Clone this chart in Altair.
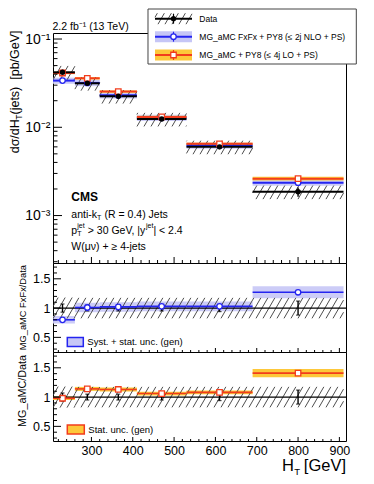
import math
import altair as alt
import pandas as pd

# ---------------- values ----------------
ht_lo = [200, 260, 320, 410, 530, 690]
ht_hi = [260, 320, 410, 530, 690, 910]
ht_mid = [230, 290, 365, 470, 610, 800]
data_xsec = [0.0420, 0.0315, 0.0225, 0.0124, 0.0060, 0.00186]
data_stat = [0.07, 0.05, 0.05, 0.05, 0.06, 0.12]        # relative stat. unc.
data_unc = [0.18, 0.175, 0.175, 0.175, 0.175, 0.175]    # relative total unc. (hatched)
fxfx_xsec = [0.0338, 0.0318, 0.0230, 0.0128, 0.0062, 0.00236]
fxfx_ratio = [0.80, 1.01, 1.02, 1.03, 1.03, 1.27]
fxfx_unc = [0.08, 0.08, 0.08, 0.08, 0.08, 0.08]
lo4j_xsec = [0.0412, 0.0359, 0.0254, 0.0131, 0.0065, 0.00262]
lo4j_ratio = [0.98, 1.14, 1.13, 1.06, 1.08, 1.41]
lo4j_unc = [0.03, 0.03, 0.03, 0.03, 0.03, 0.05]

x_major = [300, 400, 500, 600, 700, 800, 900]
y_major = [1e-3, 1e-2, 1e-1]
y_major_labels = ["10⁻³", "10⁻²", "10⁻¹"]
r_major = [0.5, 1.0, 1.5]
r_major_labels = ["0.5", "1", "1.5"]

# ---------------- layout / style ----------------
FONT = "Liberation Sans"
NB = "\u00a0"
W, H_TOP, H_R = 293, 230, 89
X_DOM = [207, 916]
Y_DOM = [2.9e-4, 0.117]
R_DOM = [0.25, 1.77]
BLUE, BLUE_BAND = "#2424f0", "#c6c6f6"
RED, ORANGE_BAND = "#f23c1c", "#fdc83a"
HATCH = "#3a3a3a"

x_minor = [v for v in range(220, 920, 20) if v % 100]
y_minor = [m * 10.0 ** e for e in (-4, -3, -2, -1) for m in range(2, 10)
           if Y_DOM[0] <= m * 10.0 ** e <= Y_DOM[1]]
r_minor = [round(0.3 + 0.1 * i, 1) for i in range(15) if round(0.3 + 0.1 * i, 1) not in r_major]

LY0, LY1 = math.log10(Y_DOM[0]), math.log10(Y_DOM[1])
def px_x(v): return (v - X_DOM[0]) / (X_DOM[1] - X_DOM[0]) * W
def val_x(p): return X_DOM[0] + p / W * (X_DOM[1] - X_DOM[0])
def px_y(v): return (LY1 - math.log10(v)) / (LY1 - LY0) * H_TOP
def val_y(p): return 10 ** (LY1 - p / H_TOP * (LY1 - LY0))
def px_r(v): return (R_DOM[1] - v) / (R_DOM[1] - R_DOM[0]) * H_R
def val_r(p): return R_DOM[1] - p / H_R * (R_DOM[1] - R_DOM[0])


def hatch(rects, yinv, spacing=7.0, angle=60.0):
    """Diagonal hatch segments for rectangles given in pixel space, returned in data units."""
    s = math.tan(math.radians(angle))
    rows = []
    for x0, x1, yt, yb in rects:
        h = yb - yt
        if h <= 0 or x1 <= x0:
            continue
        for k in range(math.floor((x0 - h / s) / spacing), math.ceil(x1 / spacing) + 1):
            c = k * spacing
            t0 = max(0.0, (x0 - c) * s)
            t1 = min(h, (x1 - c) * s)
            if t1 - t0 > 0.5:
                rows.append({"hx": val_x(c + t0 / s), "hy": yinv(yb - t0),
                             "hx2": val_x(c + t1 / s), "hy2": yinv(yb - t1)})
    return pd.DataFrame(rows)


bins = pd.DataFrame({"x_lo": ht_lo, "x_hi": ht_hi, "mid": ht_mid, "data": data_xsec,
                     "fx": fxfx_xsec, "lo4j": lo4j_xsec, "fx_r": fxfx_ratio, "lo_r": lo4j_ratio})
bins["data_sdn"] = [d * (1 - e) for d, e in zip(data_xsec, data_stat)]
bins["data_sup"] = [d * (1 + e) for d, e in zip(data_xsec, data_stat)]
bins["fx_dn"] = [d * (1 - e) for d, e in zip(fxfx_xsec, fxfx_unc)]
bins["fx_up"] = [d * (1 + e) for d, e in zip(fxfx_xsec, fxfx_unc)]
bins["lo_dn"] = [d * (1 - e) for d, e in zip(lo4j_xsec, lo4j_unc)]
bins["lo_up"] = [d * (1 + e) for d, e in zip(lo4j_xsec, lo4j_unc)]
bins["r_sdn"] = [1 - e for e in data_stat]
bins["r_sup"] = [1 + e for e in data_stat]
bins["fx_r_dn"] = [r * (1 - e) for r, e in zip(fxfx_ratio, fxfx_unc)]
bins["fx_r_up"] = [r * (1 + e) for r, e in zip(fxfx_ratio, fxfx_unc)]
bins["lo_r_dn"] = [r * (1 - e) for r, e in zip(lo4j_ratio, lo4j_unc)]
bins["lo_r_up"] = [r * (1 + e) for r, e in zip(lo4j_ratio, lo4j_unc)]

hatch_top = hatch([(max(0, px_x(a)), min(W, px_x(b)), px_y(d * (1 + u)), px_y(d * (1 - u)))
                   for a, b, d, u in zip(ht_lo, ht_hi, data_xsec, data_unc)], val_y)
hatch_ratio = hatch([(max(0, px_x(a)), min(W, px_x(b)), px_r(1 + u), px_r(1 - u))
                     for a, b, u in zip(ht_lo, ht_hi, data_unc)], val_r)

# legend symbol geometry (top-panel pixel space)
LX0, LX1 = 102.0, 139.0
LXC = (LX0 + LX1) / 2
ROWS = [-14.3, 3.7, 22.0]
hatch_leg = hatch([(LX0, LX1, ROWS[0] - 5.5, ROWS[0] + 5.5)], val_y)

xsc = alt.Scale(domain=X_DOM, nice=False, zero=False)
ysc = alt.Scale(type="log", domain=Y_DOM, nice=False)
rsc = alt.Scale(domain=R_DOM, nice=False, zero=False)


def chain_expr(vals, labels):
    expr = "''"
    for v, l in zip(vals, labels):
        expr = f"abs(datum.value - {v}) < {v * 1e-3} ? '{l}' : " + expr
    return expr


yax_top = alt.Axis(values=y_major, labelExpr=chain_expr(y_major, y_major_labels), ticks=False,
                   domain=False, grid=False, title=None, labelFontSize=14, labelPadding=3)
rax = alt.Axis(values=r_major, labelExpr=chain_expr(r_major, r_major_labels), ticks=False,
               domain=False, grid=False, title=None, labelFontSize=12.5, labelPadding=3)
xax_bot = alt.Axis(values=x_major, ticks=False, domain=False, grid=False, title=None,
                   labelFontSize=12.5, labelPadding=3, labelFlush=False)

ann = alt.Chart(pd.DataFrame({"k": [0]}))


def txt(text, x, y, size, align="left", angle=0, weight="normal", color="black"):
    kw = dict(text=text, font=FONT, fontSize=size, align=align, baseline="middle",
              color=color, fontWeight=weight)
    if angle:
        kw["angle"] = angle
    return ann.mark_text(**kw).encode(x=alt.value(x), y=alt.value(y))


def box(x0, x1, y0, y1, fill, stroke=None, sw=1.0):
    kw = dict(fill=fill)
    if stroke:
        kw.update(stroke=stroke, strokeWidth=sw)
    return ann.mark_rect(**kw).encode(x=alt.value(x0), x2=alt.value(x1), y=alt.value(y0), y2=alt.value(y1))


def hline(x0, x1, y, color, sw):
    return ann.mark_rule(color=color, strokeWidth=sw).encode(x=alt.value(x0), x2=alt.value(x1), y=alt.value(y))


def vline(x, y0, y1, color, sw):
    return ann.mark_rule(color=color, strokeWidth=sw).encode(x=alt.value(x), y=alt.value(y0), y2=alt.value(y1))


def panel(yscale, yax, height, xax, fields, band_fx, band_lo, hatch_df, show_fx, show_lo, extra):
    def X(f):
        return alt.X(f, type="quantitative", scale=xsc, axis=xax)

    def Y(f):
        return alt.Y(f, type="quantitative", scale=yscale, axis=yax)

    b = alt.Chart(bins)
    layers = []
    if show_fx:
        layers.append(b.mark_rect(color=BLUE_BAND, opacity=0.9, clip=True)
                      .encode(x=X("x_lo"), x2="x_hi", y=Y(band_fx[0]), y2=band_fx[1]))
    if show_lo:
        layers.append(b.mark_rect(color=ORANGE_BAND, opacity=1, clip=True)
                      .encode(x=X("x_lo"), x2="x_hi", y=Y(band_lo[0]), y2=band_lo[1]))
    layers.append(alt.Chart(hatch_df).mark_rule(color=HATCH, strokeWidth=0.9, clip=True)
                  .encode(x=X("hx"), x2="hx2", y=Y("hy"), y2="hy2"))
    if fields["one"]:
        layers.append(ann.mark_rule(color="black", strokeWidth=1.2)
                      .encode(y=alt.Y(datum=1, type="quantitative", scale=yscale, axis=yax)))
    if show_fx:
        layers.append(b.mark_rule(color=BLUE, strokeWidth=fields["lw"], clip=True)
                      .encode(x=X("x_lo"), x2="x_hi", y=Y(fields["fx"])))
    if show_lo:
        layers.append(b.mark_rule(color=RED, strokeWidth=fields["lw"], clip=True)
                      .encode(x=X("x_lo"), x2="x_hi", y=Y(fields["lo"])))
    if fields["data"]:
        layers.append(b.mark_rule(color="black", strokeWidth=2, clip=True)
                      .encode(x=X("x_lo"), x2="x_hi", y=Y(fields["data"])))
    layers.append(b.mark_rule(color="black", strokeWidth=1.4)
                  .encode(x=X("mid"), y=Y(fields["sdn"]), y2=fields["sup"]))
    if fields["caps"]:
        for f in (fields["sdn"], fields["sup"]):
            layers.append(b.mark_tick(orient="horizontal", size=4, thickness=1.2, color="black")
                          .encode(x=X("mid"), y=Y(f)))
    if show_fx:
        layers.append(b.mark_point(shape="circle", filled=True, fill="white", stroke=BLUE,
                                   strokeWidth=1.3, size=30, opacity=1)
                      .encode(x=X("mid"), y=Y(fields["fx"])))
    if show_lo:
        layers.append(b.mark_point(shape="square", filled=True, fill="white", stroke=RED,
                                   strokeWidth=1.3, size=30, opacity=1)
                      .encode(x=X("mid"), y=Y(fields["lo"])))
    if fields["data"]:
        layers.append(b.mark_circle(color="black", size=30, opacity=1)
                      .encode(x=X("mid"), y=Y(fields["data"])))
    # inner ticks
    layers.append(alt.Chart(pd.DataFrame({"t": x_major})).mark_rule(color="black", strokeWidth=1)
                  .encode(x=X("t"), y=alt.value(height), y2=alt.value(height - fields["xt"])))
    layers.append(alt.Chart(pd.DataFrame({"t": x_minor})).mark_rule(color="black", strokeWidth=1)
                  .encode(x=X("t"), y=alt.value(height), y2=alt.value(height - fields["xt"] / 2)))
    layers.append(alt.Chart(pd.DataFrame({"t": fields["ymaj"]})).mark_rule(color="black", strokeWidth=1)
                  .encode(y=Y("t"), x=alt.value(0), x2=alt.value(fields["yt"])))
    layers.append(alt.Chart(pd.DataFrame({"t": fields["ymin"]})).mark_rule(color="black", strokeWidth=1)
                  .encode(y=Y("t"), x=alt.value(0), x2=alt.value(fields["yt"] / 2)))
    layers.extend(extra(X, Y))
    return alt.layer(*layers).properties(width=W, height=height)


def top_extra(X, Y):
    return [
        txt("2.2 fb⁻¹ (13 TeV)", -0.5, -6, 10.5),
        # y title
        txt("dσ/dH", -37.7, 120.3, 12.5, angle=270),
        txt("T", -34.2, 86.7, 8.5, angle=270),
        txt("(jets)" + NB + NB + "[pb/GeV]", -37.7, 81.5, 12.5, angle=270),
        # CMS block
        txt("CMS", 18.3, 164, 12, weight="bold"),
        txt("anti-k", 18.3, 182.3, 10.5),
        txt("T", 44.0, 185.3, 7),
        txt("(R = 0.4) Jets", 51.5, 182.3, 10.5),
        txt("p", 18.3, 197.7, 10.5),
        txt("T", 24.2, 201.0, 7),
        txt("jet", 24.2, 193.3, 7),
        txt("> 30 GeV, |y", 34.8, 197.7, 10.5),
        txt("jet", 93.0, 193.3, 7),
        txt("| < 2.4", 100.4, 197.7, 10.5),
        txt("W(μν) + ≥ 4-jets", 18.3, 213.7, 10.5),
        # legend
        box(95, 303.3, -24, 31, "white", "#444444", 1),
        alt.Chart(hatch_leg).mark_rule(color=HATCH, strokeWidth=0.9)
        .encode(x=X("hx"), x2="hx2", y=Y("hy"), y2="hy2"),
        hline(LX0, LX1, ROWS[0], "black", 2),
        vline(LXC, ROWS[0] - 5, ROWS[0] + 5, "black", 1.2),
        ann.mark_circle(color="black", size=28, opacity=1).encode(x=alt.value(LXC), y=alt.value(ROWS[0])),
        box(LX0, LX1, ROWS[1] - 5.5, ROWS[1] + 5.5, BLUE_BAND),
        hline(LX0, LX1, ROWS[1], BLUE, 2),
        vline(LXC, ROWS[1] - 5, ROWS[1] + 5, BLUE, 1.2),
        ann.mark_point(shape="circle", filled=True, fill="white", stroke=BLUE, strokeWidth=1.3,
                       size=30, opacity=1).encode(x=alt.value(LXC), y=alt.value(ROWS[1])),
        box(LX0, LX1, ROWS[2] - 5.5, ROWS[2] + 5.5, ORANGE_BAND),
        hline(LX0, LX1, ROWS[2], RED, 2),
        vline(LXC, ROWS[2] - 5, ROWS[2] + 5, RED, 1.2),
        ann.mark_point(shape="square", filled=True, fill="white", stroke=RED, strokeWidth=1.3,
                       size=30, opacity=1).encode(x=alt.value(LXC), y=alt.value(ROWS[2])),
        txt("Data", 146.3, ROWS[0], 8.5),
        txt("MG_aMC FxFx + PY8 (≤ 2j NLO + PS)", 146.3, ROWS[1], 8.5),
        txt("MG_aMC + PY8 (≤ 4j LO + PS)", 146.3, ROWS[2], 8.5),
    ]


def mid_extra(X, Y):
    return [
        txt("MG_aMC FxFx/Data", -29.7, 2, 9.3, align="right", angle=270),
        box(14.3, 30.3, 74.5, 83.5, BLUE_BAND, BLUE, 1.5),
        txt("Syst. + stat. unc. (gen)", 34.3, 79, 9.5),
    ]


def bot_extra(X, Y):
    return [
        txt("MG_aMC/Data", -29.7, 3, 10.8, align="right", angle=270),
        box(14.3, 31.3, 73, 82, ORANGE_BAND, RED, 1.5),
        txt("Stat. unc. (gen)", 35.3, 77.5, 9.5),
        txt("H", 229, 113.8, 16.5),
        txt("T", 241.2, 119.5, 9.5),
        txt("[GeV]", W, 113.8, 16.5, align="right"),
    ]


top = panel(ysc, yax_top, H_TOP, None,
            dict(one=False, lw=2, fx="fx", lo="lo4j", data="data", sdn="data_sdn", sup="data_sup",
                 caps=False, xt=6, yt=9, ymaj=y_major, ymin=y_minor),
            ("fx_dn", "fx_up"), ("lo_dn", "lo_up"), hatch_top, True, True, top_extra)
mid = panel(rsc, rax, H_R, None,
            dict(one=True, lw=1.6, fx="fx_r", lo="lo_r", data=None, sdn="r_sdn", sup="r_sup",
                 caps=True, xt=4, yt=8, ymaj=r_major, ymin=r_minor),
            ("fx_r_dn", "fx_r_up"), None, hatch_ratio, True, False, mid_extra)
bot = panel(rsc, rax, H_R, xax_bot,
            dict(one=True, lw=1.6, fx="fx_r", lo="lo_r", data=None, sdn="r_sdn", sup="r_sup",
                 caps=True, xt=4, yt=8, ymaj=r_major, ymin=r_minor),
            None, ("lo_r_dn", "lo_r_up"), hatch_ratio, False, True, bot_extra)

chart = (alt.vconcat(top, mid, bot, spacing=0, bounds="flush")
         .properties(padding={"left": 0, "top": 0, "right": 0, "bottom": 0})
         .configure_view(stroke="black", strokeWidth=1)
         .configure_axis(labelFont=FONT, labelColor="black"))

chart.save("out.html", embed_options={"renderer": "svg", "actions": False})
